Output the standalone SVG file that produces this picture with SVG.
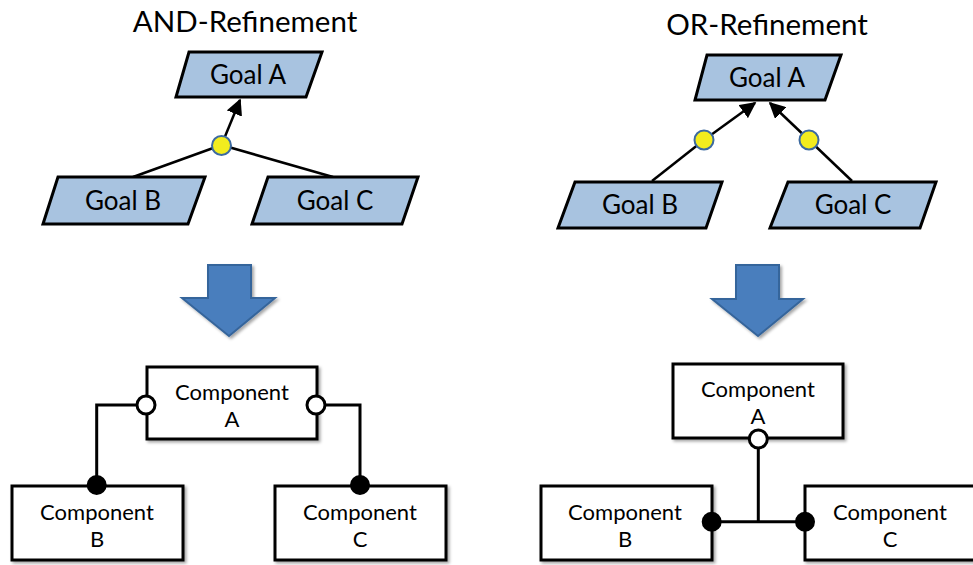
<svg xmlns="http://www.w3.org/2000/svg" width="973" height="565" viewBox="0 0 973 565">
  <defs>
    <style>
      text { font-family: Lato, "Open Sans", "Liberation Sans", sans-serif; fill: #000; text-anchor: middle; }
      .title { font-size: 29.5px; }
      .goal-label { font-size: 26px; }
      .comp-label { font-size: 22px; }
      .goal { fill: #a8c3e0; stroke: #000; stroke-width: 3; stroke-linejoin: miter; }
      .comp { fill: #fff; stroke: #000; stroke-width: 3; filter: url(#shadow); }
      .link { fill: none; stroke: #000; stroke-width: 2.5; }
      .wire { fill: none; stroke: #000; stroke-width: 3; }
      .refine { fill: #f2ec1e; stroke: #3c6aa0; stroke-width: 2; }
      .provided { fill: #fff; stroke: #000; stroke-width: 3; }
      .required { fill: #000; stroke: #000; stroke-width: 2; }
      .bigarrow { fill: #4a7ebd; stroke: #36659b; stroke-width: 2; filter: url(#shadow); }
    </style>
    <marker id="head" viewBox="0 0 10 10" refX="9" refY="5" markerWidth="6.5" markerHeight="6.5" orient="auto" markerUnits="strokeWidth">
      <path d="M0,0 L10,5 L0,10 z" fill="#000"/>
    </marker>
    <filter id="shadow" x="-10%" y="-10%" width="130%" height="130%">
      <feDropShadow dx="2" dy="2" stdDeviation="1.5" flood-color="#000" flood-opacity="0.35"/>
    </filter>
  </defs>

  <!-- Titles -->
  <text class="title" x="245" y="32">AND-Refinement</text>
  <text class="title" x="767" y="35">OR-Refinement</text>

  <!-- Connectors -->
  <g id="connectors">
    <!-- AND refinement: goals B and C join at one refinement point -->
    <line class="link" x1="133" y1="177" x2="221.5" y2="145"/>
    <line class="link" x1="333" y1="177" x2="221.5" y2="145"/>
    <line class="link" x1="221.5" y1="145" x2="240" y2="100" marker-end="url(#head)"/>
    <!-- OR refinement: each goal has its own refinement point -->
    <line class="link" x1="652" y1="181" x2="704" y2="140"/>
    <line class="link" x1="704" y1="140" x2="755" y2="103" marker-end="url(#head)"/>
    <line class="link" x1="852" y1="181" x2="809" y2="140"/>
    <line class="link" x1="809" y1="140" x2="770" y2="103" marker-end="url(#head)"/>
    <!-- AND components wiring -->
    <polyline class="wire" points="146,405 96.7,405 96.7,485"/>
    <polyline class="wire" points="316,405 360,405 360,485"/>
    <!-- OR components wiring -->
    <line class="wire" x1="758.3" y1="440" x2="758.3" y2="521.7"/>
    <line class="wire" x1="711.7" y1="521.7" x2="805" y2="521.7"/>
  </g>

  <!-- AND goal model -->
  <g id="and-goal-a">
    <polygon class="goal" points="189,52 322,52 306,97 176,97"/>
    <text class="goal-label" x="248" y="84">Goal A</text>
  </g>
  <g id="and-goal-b">
    <polygon class="goal" points="58,177 205,177 188,224 43,224"/>
    <text class="goal-label" x="123" y="210">Goal B</text>
  </g>
  <g id="and-goal-c">
    <polygon class="goal" points="268,177 418,177 402,224 252,224"/>
    <text class="goal-label" x="335" y="210">Goal C</text>
  </g>
  <g id="and-refinement">
    <circle class="refine" cx="221.5" cy="145.5" r="9.5"/>
  </g>

  <!-- OR goal model -->
  <g id="or-goal-a">
    <polygon class="goal" points="707,55 841,55 825,100 695,100"/>
    <text class="goal-label" x="767" y="87">Goal A</text>
  </g>
  <g id="or-goal-b">
    <polygon class="goal" points="575,182 722,182 706,228 558,228"/>
    <text class="goal-label" x="640" y="214">Goal B</text>
  </g>
  <g id="or-goal-c">
    <polygon class="goal" points="788,182 936,182 920,228 770,228"/>
    <text class="goal-label" x="853" y="214">Goal C</text>
  </g>
  <g id="or-refinement-b">
    <circle class="refine" cx="704" cy="140" r="9.5"/>
  </g>
  <g id="or-refinement-c">
    <circle class="refine" cx="809" cy="140" r="9.5"/>
  </g>

  <!-- Transformation arrows -->
  <g id="and-transform">
    <polygon class="bigarrow" points="208,265 251,265 251,298 275,298 229,336 182,298 208,298"/>
  </g>
  <g id="or-transform">
    <polygon class="bigarrow" points="736,265 779,265 779,299 803,299 758,336 712,299 736,299"/>
  </g>

  <!-- AND component model -->
  <g id="and-comp-a">
    <rect class="comp" x="147" y="367" width="170" height="72"/>
    <text class="comp-label"><tspan x="232" y="400">Component</tspan><tspan x="232" y="427">A</tspan></text>
    <circle class="provided" cx="146" cy="405" r="9"/>
    <circle class="provided" cx="316" cy="405" r="9"/>
  </g>
  <g id="and-comp-b">
    <rect class="comp" x="12" y="486" width="171" height="74"/>
    <text class="comp-label"><tspan x="97" y="519.5">Component</tspan><tspan x="97" y="546.5">B</tspan></text>
    <circle class="required" cx="96.7" cy="485" r="9"/>
  </g>
  <g id="and-comp-c">
    <rect class="comp" x="275" y="486" width="171" height="74"/>
    <text class="comp-label"><tspan x="360" y="519.5">Component</tspan><tspan x="360" y="546.5">C</tspan></text>
    <circle class="required" cx="360" cy="485" r="9"/>
  </g>

  <!-- OR component model -->
  <g id="or-comp-a">
    <rect class="comp" x="673" y="364" width="170" height="74"/>
    <text class="comp-label"><tspan x="758" y="397">Component</tspan><tspan x="758" y="424">A</tspan></text>
    <circle class="provided" cx="758.3" cy="439" r="9"/>
  </g>
  <g id="or-comp-b">
    <rect class="comp" x="541" y="486" width="171" height="74"/>
    <text class="comp-label"><tspan x="625" y="519.5">Component</tspan><tspan x="625" y="546.5">B</tspan></text>
    <circle class="required" cx="711.7" cy="521.7" r="9"/>
  </g>
  <g id="or-comp-c">
    <rect class="comp" x="805" y="486" width="171" height="74"/>
    <text class="comp-label"><tspan x="890" y="519.5">Component</tspan><tspan x="890" y="546.5">C</tspan></text>
    <circle class="required" cx="805" cy="521.7" r="9"/>
  </g>
</svg>
